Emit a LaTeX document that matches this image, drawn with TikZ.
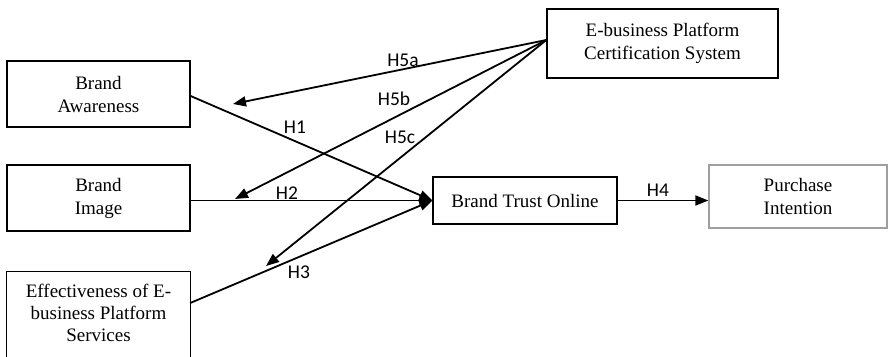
\documentclass[tikz,border=0pt]{standalone}
\usepackage{fontspec}
\setmainfont{Liberation Serif}
\newfontfamily\lblfont{Carlito}
\usetikzlibrary{arrows.meta}
\tikzset{
  box/.style={draw=black, line width=1.3pt, align=center, inner sep=0pt,
    font=\fontsize{19}{23}\selectfont},
  conn/.style={line width=1.8pt, -{Triangle[length=13pt,width=10pt]}},
  hlbl/.style={font=\lblfont\fontsize{19.5}{22}\selectfont, inner sep=0pt}
}
\begin{document}
\begin{tikzpicture}[x=1pt,y=-1pt]
\useasboundingbox (0,0) rectangle (888,356);
\node[box, minimum width=183pt, minimum height=66pt] (ba) at (98.5,94) {Brand\\Awareness};
\node[box, minimum width=183pt, minimum height=66pt] (bi) at (98.5,198) {Brand\\Image};
\node[align=center, inner sep=0pt, minimum width=183pt, minimum height=82pt,
  font=\fontsize{19}{22}\selectfont] (eff) at (98.5,313) {Effectiveness of E-\\business Platform\\Services};
\draw[line width=1.3pt] ([yshift=-20pt]eff.south west) -- (eff.north west) -- (eff.north east) -- ([yshift=-20pt]eff.south east);
\node[box, minimum width=184pt, minimum height=47pt] (bto) at (525,200.5) {Brand Trust Online};
\node[box, draw=gray!75, minimum width=178pt, minimum height=63pt] (pi) at (798,196.5) {Purchase\\Intention};
\node[box, minimum width=231pt, minimum height=69pt] (eb) at (662.5,43.5) {E-business Platform\\Certification System};
\coordinate (t5a) at (233,104);
\coordinate (t5b) at (235,199);
\coordinate (t5c) at (266,266);
\coordinate (src5) at ([yshift=3.5pt]eb.west);
\draw[conn] ([yshift=-2pt]ba.east) -- (bto.west);
\draw[conn] (bi.east |- bto.west) -- (bto.west);
\draw[conn] ([yshift=10pt]eff.east) -- (bto.west);
\draw[conn] (bto.east) -- (bto.east -| pi.west);
\draw[conn] (src5) -- (t5a);
\draw[conn] (src5) -- (t5b);
\draw[conn] (src5) -- (t5c);
\node[hlbl] (l5a) at (403,60) {H5a};
\node[hlbl] (l5b) at (394,99) {H5b};
\node[hlbl] (l1) at (295,127) {H1};
\node[hlbl] (l5c) at (400,137) {H5c};
\node[hlbl] (l2) at (287,193) {H2};
\node[hlbl] (l3) at (299,272) {H3};
\node[hlbl] (l4) at (658,190) {H4};
\end{tikzpicture}
\end{document}
